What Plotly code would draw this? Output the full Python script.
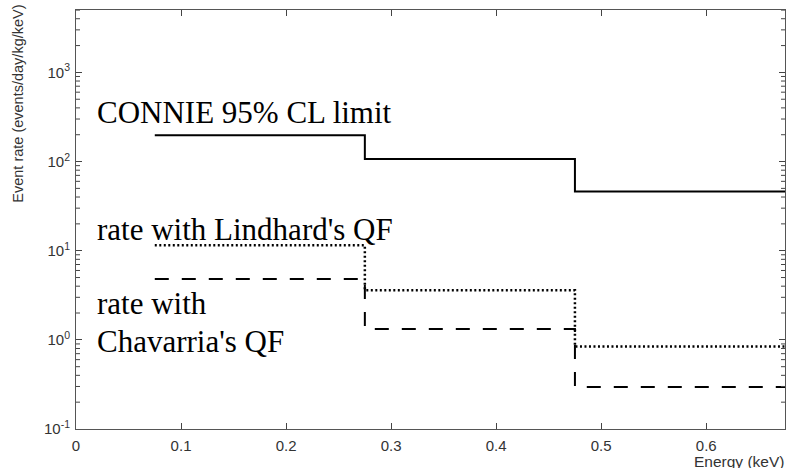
import plotly.graph_objects as go

# Energy bin edges (keV) and per-bin event rates (events/day/kg/keV)
energy_edges = [0.075, 0.275, 0.475, 0.675]
connie_limit = [197, 107, 46]
rate_lindhard = [11.5, 3.6, 0.84]
rate_chavarria = [4.8, 1.32, 0.295]

x_ticks = [0, 0.1, 0.2, 0.3, 0.4, 0.5, 0.6]
x_tick_text = ["0", "0.1", "0.2", "0.3", "0.4", "0.5", "0.6"]
y_ticks = [0.1, 1, 10, 100, 1000]
y_tick_text = ["10<sup>-1</sup>", "10<sup>0</sup>", "10<sup>1</sup>", "10<sup>2</sup>", "10<sup>3</sup>"]
y_minor_ticks = [m * d for d in (0.1, 1, 10, 100, 1000) for m in range(2, 10)]


def step(vals):
    return vals + [vals[-1]]


fig = go.Figure()
fig.add_trace(go.Scatter(x=energy_edges, y=step(connie_limit), mode="lines",
                         line=dict(color="black", width=2, shape="hv")))
fig.add_trace(go.Scatter(x=energy_edges, y=step(rate_lindhard), mode="lines",
                         line=dict(color="black", width=2.5, shape="hv", dash="2px,2.5px")))
fig.add_trace(go.Scatter(x=energy_edges, y=step(rate_chavarria), mode="lines",
                         line=dict(color="black", width=2, shape="hv", dash="14px,13px")))

serif = dict(family="Liberation Serif", size=31, color="black")
labels = [
    ("CONNIE 95% CL limit", 124),
    ("rate with Lindhard's QF", 241),
    ("rate with", 315),
    ("Chavarria's QF", 353),
]
for text, base in labels:
    fig.add_annotation(text=text, xref="paper", yref="paper", x=(95 - 76) / 709,
                       y=1 - (base + 8 - 10) / 419, xanchor="left", yanchor="bottom",
                       showarrow=False, font=serif, align="left")

sans = dict(family="Liberation Sans", size=15, color="#333333")
fig.add_annotation(text="Energy (keV)", xref="paper", yref="paper", x=1, y=-0.077,
                   xanchor="right", yanchor="middle", showarrow=False, borderpad=0,
                   font=dict(family="Liberation Sans", size=15.5, color="#333333"))
fig.add_annotation(text="Event rate (events/day/kg/keV)", xref="paper", yref="paper",
                   x=-0.082, y=0.776, xanchor="center", yanchor="middle", textangle=-90,
                   showarrow=False, font=dict(family="Liberation Sans", size=14.5, color="#333333"))

# short inside minor ticks on the log axis, left and right frame edges
tick_frac = 4 / 709
for v in y_minor_ticks:
    for x0, x1 in ((0, tick_frac), (1 - tick_frac, 1)):
        fig.add_shape(type="line", xref="paper", yref="y", x0=x0, x1=x1, y0=v, y1=v,
                      line=dict(color="#444444", width=1))

axis_common = dict(showline=True, linecolor="#555555", linewidth=1, mirror="allticks",
                   ticks="inside", tickcolor="#444444", tickwidth=1, showgrid=False,
                   zeroline=False, tickfont=sans)

fig.update_layout(
    width=786, height=468, showlegend=False,
    margin=dict(l=76, r=1, t=10, b=39),
    plot_bgcolor="white", paper_bgcolor="white",
    xaxis=dict(range=[0, 0.675], tickvals=x_ticks, ticktext=x_tick_text, ticklen=6,
               ticklabelstandoff=3, **axis_common),
    yaxis=dict(type="log", range=[-1, 3.7], tickvals=y_ticks, ticktext=y_tick_text,
               ticklen=6, ticklabelstandoff=2, **axis_common),
)

fig.write_html("out.html")
